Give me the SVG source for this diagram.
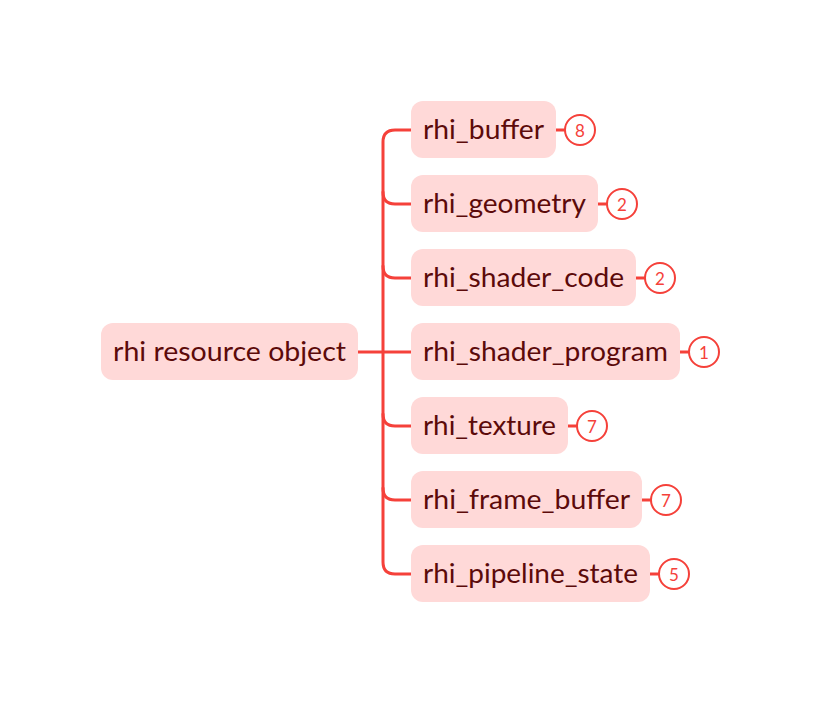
<svg xmlns="http://www.w3.org/2000/svg" width="822" height="704" viewBox="0 0 822 704">
<style>
.box{fill:#ffd9d8}
.lbl{font-family:Lato,"Liberation Sans",sans-serif;font-size:26px;fill:#5c0a0a;dominant-baseline:central}
.ln{fill:none;stroke:#f5413a;stroke-width:3;stroke-linecap:round}
.bd{fill:#fff;stroke:#f5413a;stroke-width:2}
.num{font-family:Lato,"Liberation Sans",sans-serif;font-size:17px;fill:#f5413a;text-anchor:middle;dominant-baseline:central}
</style>
<rect width="822" height="704" fill="#fff"/>
<g id="connectors">
<path class="ln" d="M358 352 H411"/>
<path class="ln" d="M411 130 H395 Q383 130 383 142 V562 Q383 574 395 574 H411"/>
<path class="ln" d="M383 192 Q383 204 395 204 H411"/>
<path class="ln" d="M383 266 Q383 278 395 278 H411"/>
<path class="ln" d="M383 414 Q383 426 395 426 H411"/>
<path class="ln" d="M383 488 Q383 500 395 500 H411"/>
<path class="ln" d="M556 130 H565"/>
<path class="ln" d="M598 204 H607"/>
<path class="ln" d="M636 278 H645"/>
<path class="ln" d="M680 352 H689"/>
<path class="ln" d="M568 426 H577"/>
<path class="ln" d="M642 500 H651"/>
<path class="ln" d="M650 574 H659"/>
</g>
<g id="root"><rect class="box" x="101" y="323" width="257" height="57" rx="12"/><text class="lbl" x="113" y="351" textLength="233" lengthAdjust="spacingAndGlyphs">rhi resource object</text></g>
<g id="n1"><rect class="box" x="411" y="101" width="145" height="57" rx="12"/><text class="lbl" x="423" y="129" textLength="121" lengthAdjust="spacingAndGlyphs">rhi_buffer</text><circle class="bd" cx="580" cy="130" r="15"/><text class="num" x="580" y="130">8</text></g>
<g id="n2"><rect class="box" x="411" y="175" width="187" height="57" rx="12"/><text class="lbl" x="423" y="203" textLength="163" lengthAdjust="spacingAndGlyphs">rhi_geometry</text><circle class="bd" cx="622" cy="204" r="15"/><text class="num" x="622" y="204">2</text></g>
<g id="n3"><rect class="box" x="411" y="249" width="225" height="57" rx="12"/><text class="lbl" x="423" y="277" textLength="201" lengthAdjust="spacingAndGlyphs">rhi_shader_code</text><circle class="bd" cx="660" cy="278" r="15"/><text class="num" x="660" y="278">2</text></g>
<g id="n4"><rect class="box" x="411" y="323" width="269" height="57" rx="12"/><text class="lbl" x="423" y="351" textLength="245" lengthAdjust="spacingAndGlyphs">rhi_shader_program</text><circle class="bd" cx="704" cy="352" r="15"/><text class="num" x="704" y="352">1</text></g>
<g id="n5"><rect class="box" x="411" y="397" width="157" height="57" rx="12"/><text class="lbl" x="423" y="425" textLength="133" lengthAdjust="spacingAndGlyphs">rhi_texture</text><circle class="bd" cx="592" cy="426" r="15"/><text class="num" x="592" y="426">7</text></g>
<g id="n6"><rect class="box" x="411" y="471" width="231" height="57" rx="12"/><text class="lbl" x="423" y="499" textLength="207" lengthAdjust="spacingAndGlyphs">rhi_frame_buffer</text><circle class="bd" cx="666" cy="500" r="15"/><text class="num" x="666" y="500">7</text></g>
<g id="n7"><rect class="box" x="411" y="545" width="239" height="57" rx="12"/><text class="lbl" x="423" y="573" textLength="215" lengthAdjust="spacingAndGlyphs">rhi_pipeline_state</text><circle class="bd" cx="674" cy="574" r="15"/><text class="num" x="674" y="574">5</text></g>
</svg>
